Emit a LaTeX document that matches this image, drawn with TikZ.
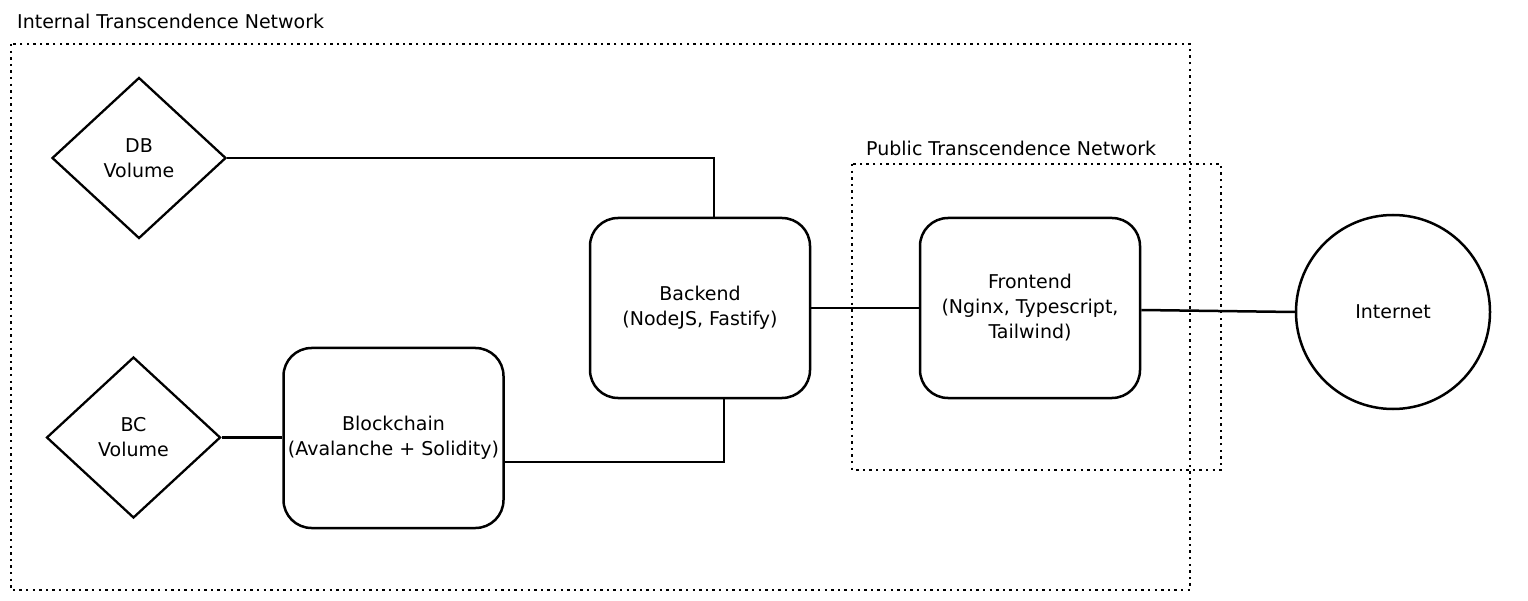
\documentclass[tikz,border=0pt]{standalone}
\usepackage{fontspec}
\setmainfont{DejaVu Sans}
\usetikzlibrary{shapes.geometric}
\begin{document}
\begin{tikzpicture}[x=1pt,y=-1pt,
  every node/.style={font=\fontsize{19}{25}\selectfont, text=black},
  netbox/.style={draw=black, line width=2pt, dash pattern=on 2.4pt off 4.2pt},
  boxnode/.style={draw=black, line width=2.5pt, rounded corners=28pt, minimum width=220pt, minimum height=180pt, align=center, inner sep=0pt},
  volnode/.style={draw=black, line width=2.3pt, diamond, minimum width=174pt, minimum height=161pt, align=center, inner sep=0pt, aspect=1.08},
  link/.style={draw=black, line width=2.5pt},
  lbl/.style={anchor=west, inner sep=0pt}]
\useasboundingbox (0,0) rectangle (1528,601);
\fill[white] (0,0) rectangle (1528,601);
% network areas
\draw[netbox] (11,44) rectangle (1190,590);
\node[lbl] (intlbl) at (17,21) {Internal Transcendence Network};
\draw[netbox] (852,164) rectangle (1221,470);
\node[lbl] (publbl) at (866,148) {Public Transcendence Network};
% nodes
\node[volnode] (db) at (139,158) {DB\\Volume};
\node[volnode] (bc) at (133.5,437.5) {BC\\Volume};
\node[boxnode] (chain) at (393.5,438) {Blockchain\\(Avalanche + Solidity)};
\node[boxnode] (back) at (700,308) {Backend\\(NodeJS, Fastify)};
\node[boxnode] (front) at (1030,308) {Frontend\\(Nginx, Typescript,\\Tailwind)};
\node[draw=black, line width=2.5pt, circle, minimum size=194pt, inner sep=0pt] (net) at (1393,312) {Internet};
% connectors
\draw[link] (db.east) -- (714,158) -- (714,0 |- back.north);
\draw[link] (bc.east) -- (bc.east -| chain.west);
\draw[link] (chain.east |- 0,462) -- (724,462) -- (724,0 |- back.south);
\draw[link] (back.east) -- (back.east -| front.west);
\draw[link] (front.east |- 0,310) -- (net.west);
\end{tikzpicture}
\end{document}
